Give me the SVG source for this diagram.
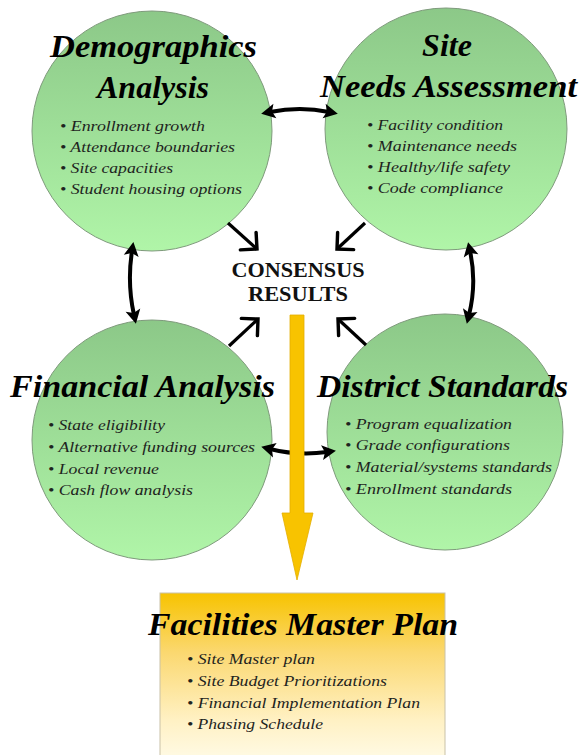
<svg xmlns="http://www.w3.org/2000/svg" width="579" height="755" viewBox="0 0 579 755">
  <defs>
    <linearGradient id="greenFill" x1="0" y1="0" x2="0" y2="1">
      <stop offset="0" stop-color="#8cc888"/>
      <stop offset="1" stop-color="#b0f5a8"/>
    </linearGradient>
    <linearGradient id="goldFill" x1="0" y1="0" x2="0" y2="1">
      <stop offset="0" stop-color="#f7c300"/>
      <stop offset="0.35" stop-color="#fbd870"/>
      <stop offset="0.75" stop-color="#fff1c4"/>
      <stop offset="1" stop-color="#fffbe8"/>
    </linearGradient>
    <marker id="openHead" markerUnits="userSpaceOnUse" markerWidth="30" markerHeight="30" viewBox="-14 -14 28 28" refX="0" refY="0" orient="auto">
      <path d="M-11,-11 L0,0 L-11,11" fill="none" stroke="#000" stroke-width="3.2" stroke-linecap="round" stroke-linejoin="miter"/>
    </marker>
    <marker id="solidHead" markerUnits="userSpaceOnUse" markerWidth="30" markerHeight="30" viewBox="-15 -15 30 30" refX="0" refY="0" orient="auto-start-reverse">
      <path d="M-5,-7.5 L9,0 L-5,7.5 L-2,0 Z" fill="#000"/>
    </marker>
  </defs>
  <style>
    .circle { fill: url(#greenFill); stroke: #7f9a7c; stroke-width: 1; }
    .title { font-family: "Liberation Serif", "Times New Roman", serif; font-weight: bold; font-style: italic; font-size: 32px; fill: #000; }
    .item { font-family: "Liberation Serif", "Times New Roman", serif; font-style: italic; font-size: 15px; fill: #1e241e; }
    .center { font-family: "Liberation Serif", "Times New Roman", serif; font-weight: bold; font-size: 20px; fill: #111; }
    .link { fill: none; stroke: #000; stroke-width: 4; }
    .feed { fill: none; stroke: #000; stroke-width: 3.2; }
  </style>

  <rect width="579" height="755" fill="#fff"/>

  <!-- four analysis areas -->
  <g id="demographics">
    <circle class="circle" cx="152" cy="131" r="120"/>
    <text class="title" x="50" y="57" textLength="207" lengthAdjust="spacingAndGlyphs">Demographics</text>
    <text class="title" x="153" y="98" text-anchor="middle">Analysis</text>
    <text class="item" x="60" y="131" textLength="145" lengthAdjust="spacingAndGlyphs">• Enrollment growth</text>
    <text class="item" x="60" y="152" textLength="175" lengthAdjust="spacingAndGlyphs">• Attendance boundaries</text>
    <text class="item" x="60" y="173" textLength="113" lengthAdjust="spacingAndGlyphs">• Site capacities</text>
    <text class="item" x="60" y="194" textLength="182" lengthAdjust="spacingAndGlyphs">• Student housing options</text>
  </g>

  <g id="site-needs">
    <circle class="circle" cx="446" cy="129" r="121"/>
    <text class="title" x="447" y="56" text-anchor="middle">Site</text>
    <text class="title" x="320" y="97" textLength="257" lengthAdjust="spacingAndGlyphs">Needs Assessment</text>
    <text class="item" x="367" y="130" textLength="136" lengthAdjust="spacingAndGlyphs">• Facility condition</text>
    <text class="item" x="367" y="151" textLength="150" lengthAdjust="spacingAndGlyphs">• Maintenance needs</text>
    <text class="item" x="367" y="172" textLength="143" lengthAdjust="spacingAndGlyphs">• Healthy/life safety</text>
    <text class="item" x="367" y="193" textLength="136" lengthAdjust="spacingAndGlyphs">• Code compliance</text>
  </g>

  <g id="financial">
    <circle class="circle" cx="152" cy="440" r="120"/>
    <text class="title" x="10" y="397" textLength="265" lengthAdjust="spacingAndGlyphs">Financial Analysis</text>
    <text class="item" x="48" y="430" textLength="117" lengthAdjust="spacingAndGlyphs">• State eligibility</text>
    <text class="item" x="48" y="452" textLength="207" lengthAdjust="spacingAndGlyphs">• Alternative funding sources</text>
    <text class="item" x="48" y="474" textLength="111" lengthAdjust="spacingAndGlyphs">• Local revenue</text>
    <text class="item" x="48" y="495" textLength="145" lengthAdjust="spacingAndGlyphs">• Cash flow analysis</text>
  </g>

  <g id="district-standards">
    <circle class="circle" cx="445" cy="432" r="118"/>
    <text class="title" x="317" y="397" textLength="251" lengthAdjust="spacingAndGlyphs">District Standards</text>
    <text class="item" x="345" y="429" textLength="167" lengthAdjust="spacingAndGlyphs">• Program equalization</text>
    <text class="item" x="345" y="450" textLength="165" lengthAdjust="spacingAndGlyphs">• Grade configurations</text>
    <text class="item" x="345" y="472" textLength="207" lengthAdjust="spacingAndGlyphs">• Material/systems standards</text>
    <text class="item" x="345" y="494" textLength="167" lengthAdjust="spacingAndGlyphs">• Enrollment standards</text>
  </g>

  <g id="consensus">
    <text class="center" x="298" y="277" text-anchor="middle" textLength="133" lengthAdjust="spacingAndGlyphs">CONSENSUS</text>
    <text class="center" x="298" y="301" text-anchor="middle" textLength="100" lengthAdjust="spacingAndGlyphs">RESULTS</text>
  </g>

  <g id="master-plan">
    <rect x="160" y="593" width="285" height="170" fill="url(#goldFill)" stroke="#c9c2a8" stroke-width="1"/>
    <text class="title" x="148" y="635" textLength="310" lengthAdjust="spacingAndGlyphs">Facilities Master Plan</text>
    <text class="item" x="187" y="664" textLength="128" lengthAdjust="spacingAndGlyphs">• Site Master plan</text>
    <text class="item" x="187" y="686" textLength="200" lengthAdjust="spacingAndGlyphs">• Site Budget Prioritizations</text>
    <text class="item" x="187" y="708" textLength="233" lengthAdjust="spacingAndGlyphs">• Financial Implementation Plan</text>
    <text class="item" x="187" y="729" textLength="136" lengthAdjust="spacingAndGlyphs">• Phasing Schedule</text>
  </g>

  <!-- connectors -->
  <g id="connectors">
    <!-- two-way links between neighbouring areas -->
    <path class="link" d="M270,112 Q300,106 329,112" marker-start="url(#solidHead)" marker-end="url(#solidHead)"/>
    <path class="link" d="M132,251 Q127,283 134,315" marker-start="url(#solidHead)" marker-end="url(#solidHead)"/>
    <path class="link" d="M470,251 Q477,283 469,315" marker-start="url(#solidHead)" marker-end="url(#solidHead)"/>
    <path class="link" d="M270,449 Q298,456 327,452" marker-start="url(#solidHead)" marker-end="url(#solidHead)"/>
    <!-- each area feeds the consensus -->
    <path class="feed" d="M228,223 L257,249" marker-end="url(#openHead)"/>
    <path class="feed" d="M365,223 L337,249" marker-end="url(#openHead)"/>
    <path class="feed" d="M229,346 L258,319" marker-end="url(#openHead)"/>
    <path class="feed" d="M366,345 L338,319" marker-end="url(#openHead)"/>
    <!-- consensus leads to the master plan -->
    <polygon points="290,315 304,315 304,513 313,513 297,580 282,513 290,513" fill="#f8c300" stroke="#e3ad00" stroke-width="0.8"/>
  </g>
</svg>
